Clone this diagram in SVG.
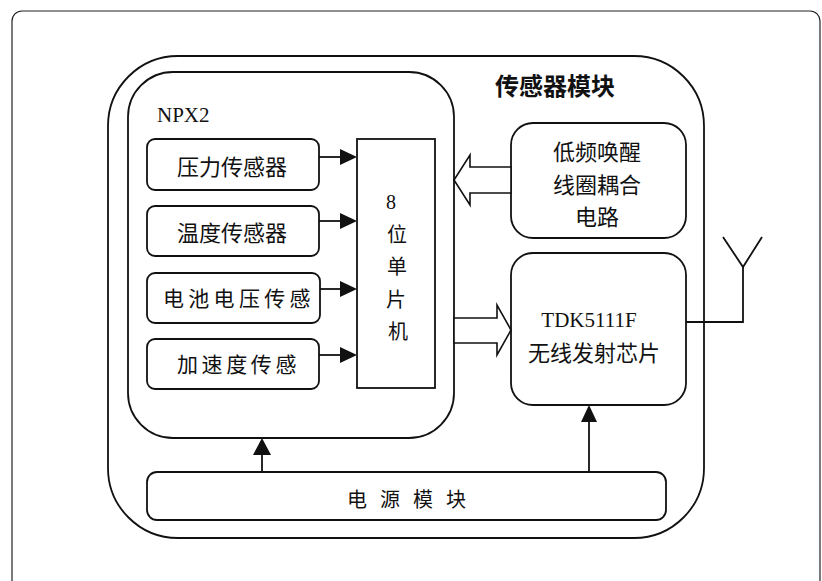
<svg xmlns="http://www.w3.org/2000/svg" width="822" height="581" viewBox="0 0 822 581">
<style>
.frame{fill:none;stroke:#222;stroke-width:1.2}
.box{fill:#fff;stroke:#111;stroke-width:1.8}
.line{fill:none;stroke:#111;stroke-width:1.8}
.head{fill:#111;stroke:none}
.hollow{fill:#fff;stroke:#111;stroke-width:1.6;stroke-linejoin:miter}
.cn{font-family:"Liberation Serif","Noto Sans CJK SC",serif;font-size:21px;fill:#111;dominant-baseline:central}
.lat{font-family:"Liberation Serif","Noto Sans CJK SC",serif;font-size:21px;fill:#111}
</style>
<rect width="822" height="581" fill="#fff"/>
<rect class="frame" x="12" y="11" width="808" height="620" rx="10"/>

<g id="sensor-module">
<rect class="box" x="108" y="56" width="596" height="482" rx="70"/>
<text class="cn" x="495" y="87" style="font-size:24px;font-weight:bold">传感器模块</text>
</g>

<g id="npx2">
<rect class="box" x="128" y="72" width="326" height="366" rx="45"/>
<text class="lat" x="157" y="122">NPX2</text>
</g>

<g id="pressure">
<rect class="box" x="147" y="139" width="172" height="51" rx="8"/>
<text class="cn" x="232" y="167" text-anchor="middle" style="font-size:22px">压力传感器</text>
</g>
<g id="temperature">
<rect class="box" x="147" y="206" width="172" height="50" rx="8"/>
<text class="cn" x="232" y="233" text-anchor="middle" style="font-size:22px">温度传感器</text>
</g>
<g id="battery">
<rect class="box" x="147" y="273" width="173" height="50" rx="8"/>
<text class="cn" x="163" y="299" style="letter-spacing:4.3px">电池电压传感</text>
</g>
<g id="accel">
<rect class="box" x="147" y="339" width="172" height="50" rx="8"/>
<text class="cn" x="177" y="365" style="letter-spacing:3.6px">加速度传感</text>
</g>

<g id="mcu">
<rect class="box" x="357" y="139" width="78" height="249"/>
<text class="lat" x="391" y="209" text-anchor="middle" style="font-size:20px">8</text>
<text class="cn" x="397" y="235" text-anchor="middle" style="font-size:20px">位</text>
<text class="cn" x="397" y="267" text-anchor="middle" style="font-size:20px">单</text>
<text class="cn" x="396" y="300" text-anchor="middle" style="font-size:20px">片</text>
<text class="cn" x="398" y="332" text-anchor="middle" style="font-size:20px">机</text>
</g>

<g id="lf-wakeup">
<rect class="box" x="511" y="123" width="175" height="115" rx="22"/>
<text class="cn" x="597" y="152" text-anchor="middle" style="font-size:22px">低频唤醒</text>
<text class="cn" x="597" y="185" text-anchor="middle" style="font-size:22px">线圈耦合</text>
<text class="cn" x="597" y="217" text-anchor="middle" style="font-size:22px">电路</text>
</g>

<g id="tdk">
<rect class="box" x="511" y="253" width="175" height="152" rx="22"/>
<text class="lat" x="589" y="327" text-anchor="middle">TDK5111F</text>
<text class="cn" x="594" y="353" text-anchor="middle" style="font-size:22px">无线发射芯片</text>
</g>

<g id="power">
<rect class="box" x="147" y="472" width="519" height="48" rx="10"/>
<text class="cn" x="347" y="500" style="font-size:20px;letter-spacing:13px">电源模块</text>
</g>

<g id="antenna">
<polyline class="line" points="686,322 743,322 743,267"/>
<polyline class="line" points="723,237 743,267 762,237"/>
</g>

<g id="connectors">
<line class="line" x1="319" y1="157" x2="341" y2="157"/>
<polygon class="head" points="340,149 357,157 340,165"/>
<line class="line" x1="319" y1="221" x2="341" y2="221"/>
<polygon class="head" points="340,213 357,221 340,229"/>
<line class="line" x1="320" y1="289" x2="341" y2="289"/>
<polygon class="head" points="340,281 357,289 340,297"/>
<line class="line" x1="319" y1="355" x2="341" y2="355"/>
<polygon class="head" points="340,347 357,355 340,363"/>

<polygon class="hollow" points="511,167 470,167 470,155 454,180 470,205 470,193 511,193"/>
<polygon class="hollow" points="454,318 497,318 497,305 511,330 497,355 497,343 454,343"/>

<line class="line" x1="262" y1="472" x2="262" y2="454"/>
<polygon class="head" points="253,455 262,438 271,455"/>
<line class="line" x1="589" y1="472" x2="589" y2="421"/>
<polygon class="head" points="581,422 589,405 597,422"/>
</g>
</svg>
